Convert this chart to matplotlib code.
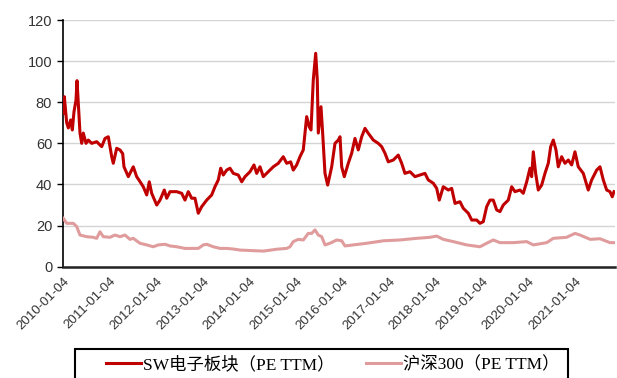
import matplotlib
matplotlib.use('Agg')
import matplotlib.pyplot as plt
import matplotlib.dates as mdates
from matplotlib.patches import Rectangle
import pandas as pd

# PE(TTM) 走势, x = 小数年份
sw_years = [
    2010.000, 2010.022, 2010.073, 2010.108, 2010.159, 2010.194, 2010.230, 2010.273,
    2010.295, 2010.331, 2010.359, 2010.396, 2010.430, 2010.488, 2010.538, 2010.611,
    2010.718, 2010.826, 2010.897, 2010.968, 2011.041, 2011.075, 2011.148, 2011.219,
    2011.277, 2011.305, 2011.398, 2011.505, 2011.578, 2011.652, 2011.720, 2011.794,
    2011.849, 2011.901, 2012.009, 2012.080, 2012.172, 2012.224, 2012.295, 2012.439,
    2012.546, 2012.617, 2012.688, 2012.761, 2012.832, 2012.903, 2012.976, 2013.084,
    2013.191, 2013.262, 2013.333, 2013.385, 2013.441, 2013.514, 2013.585, 2013.656,
    2013.763, 2013.837, 2013.908, 2014.015, 2014.101, 2014.159, 2014.230, 2014.301,
    2014.409, 2014.516, 2014.624, 2014.731, 2014.804, 2014.890, 2014.946, 2015.019,
    2015.090, 2015.161, 2015.234, 2015.290, 2015.327, 2015.376, 2015.428, 2015.462,
    2015.484, 2015.542, 2015.578, 2015.628, 2015.686, 2015.772, 2015.843, 2015.914,
    2015.951, 2015.987, 2016.043, 2016.129, 2016.202, 2016.273, 2016.344, 2016.417,
    2016.488, 2016.559, 2016.667, 2016.774, 2016.847, 2016.918, 2016.989, 2017.097,
    2017.204, 2017.277, 2017.348, 2017.456, 2017.563, 2017.671, 2017.778, 2017.849,
    2017.957, 2018.030, 2018.086, 2018.172, 2018.280, 2018.353, 2018.424, 2018.531,
    2018.602, 2018.710, 2018.783, 2018.890, 2018.961, 2019.032, 2019.105, 2019.176,
    2019.247, 2019.320, 2019.391, 2019.462, 2019.570, 2019.643, 2019.714, 2019.822,
    2019.892, 2019.966, 2020.037, 2020.073, 2020.108, 2020.159, 2020.215, 2020.288,
    2020.359, 2020.430, 2020.482, 2020.538, 2020.596, 2020.645, 2020.718, 2020.789,
    2020.860, 2020.933, 2021.004, 2021.075, 2021.183, 2021.290, 2021.363, 2021.471,
    2021.542, 2021.613, 2021.686, 2021.757, 2021.806, 2021.843,
]
sw_pe = [
    74.6, 82.7, 70.0, 67.5, 71.4, 66.5, 75.4, 81.0,
    90.5, 76.0, 65.0, 60.0, 65.0, 60.0, 61.6, 60.0,
    60.8, 58.4, 62.4, 63.2, 53.5, 50.3, 57.6, 56.8,
    55.0, 48.6, 43.8, 48.6, 43.8, 41.3, 38.9, 34.9,
    41.3, 35.7, 30.0, 32.4, 37.3, 33.3, 36.5, 36.5,
    35.7, 32.4, 36.5, 33.3, 33.3, 26.0, 29.2, 32.4,
    34.9, 38.9, 42.2, 47.9, 44.6, 47.0, 47.9, 45.4,
    44.6, 41.3, 43.8, 46.2, 49.5, 45.4, 48.6, 43.8,
    46.2, 48.6, 50.3, 53.5, 50.3, 51.0, 47.0, 49.5,
    53.5, 56.8, 73.0, 68.0, 66.5, 90.8, 103.8, 90.8,
    65.0, 77.8, 64.9, 45.4, 39.7, 48.6, 60.0, 61.6,
    63.2, 48.6, 43.8, 50.3, 55.2, 62.4, 56.8, 63.2,
    67.3, 64.9, 61.6, 60.0, 58.4, 55.2, 51.0, 51.9,
    54.3, 50.3, 45.4, 46.2, 43.8, 44.6, 45.4, 42.2,
    40.6, 38.1, 32.4, 38.9, 37.3, 38.1, 30.8, 31.6,
    28.4, 26.0, 22.7, 22.7, 21.1, 21.9, 29.2, 32.4,
    32.4, 27.6, 26.8, 30.0, 32.4, 38.9, 36.5, 37.3,
    35.7, 41.3, 47.9, 43.8, 55.9, 45.4, 37.3, 39.7,
    45.4, 50.3, 58.4, 61.6, 56.8, 48.6, 53.5, 50.3,
    51.9, 49.5, 55.9, 48.6, 45.4, 37.3, 42.2, 47.0,
    48.6, 42.2, 37.3, 36.5, 34.0, 36.5,
]

hs300_years = [
    2010.000, 2010.073, 2010.215, 2010.288, 2010.359, 2010.503, 2010.645, 2010.718,
    2010.789, 2010.860, 2011.004, 2011.112, 2011.219, 2011.327, 2011.434, 2011.505,
    2011.649, 2011.794, 2011.935, 2012.043, 2012.187, 2012.295, 2012.439, 2012.617,
    2012.796, 2012.903, 2013.011, 2013.084, 2013.226, 2013.370, 2013.514, 2013.656,
    2013.800, 2014.086, 2014.301, 2014.374, 2014.589, 2014.804, 2014.875, 2014.946,
    2015.054, 2015.161, 2015.269, 2015.342, 2015.413, 2015.484, 2015.557, 2015.628,
    2015.735, 2015.880, 2015.987, 2016.058, 2016.237, 2016.525, 2016.882, 2017.241,
    2017.600, 2017.886, 2018.030, 2018.172, 2018.387, 2018.675, 2018.961, 2019.105,
    2019.247, 2019.391, 2019.677, 2019.966, 2020.108, 2020.396, 2020.538, 2020.824,
    2021.004, 2021.112, 2021.333, 2021.542, 2021.757, 2021.843,
]
hs300_pe = [
    23.5, 21.1, 21.1, 19.5, 15.4, 14.6, 14.3, 13.8,
    17.0, 14.6, 14.3, 15.4, 14.6, 15.4, 13.3, 13.8,
    11.4, 10.6, 9.7, 10.6, 10.9, 10.1, 9.7, 8.9,
    8.9, 8.9, 10.6, 10.9, 9.7, 8.9, 8.9, 8.6,
    8.1, 7.8, 7.6, 7.8, 8.5, 8.9, 9.7, 12.2,
    13.3, 13.0, 16.2, 16.2, 17.9, 15.4, 14.6, 10.6,
    11.4, 13.0, 12.6, 10.1, 10.6, 11.4, 12.6, 13.0,
    13.8, 14.3, 14.9, 13.3, 12.2, 10.6, 9.7, 11.4,
    13.0, 11.7, 11.7, 12.2, 10.6, 11.7, 13.8, 14.3,
    16.2, 15.4, 13.3, 13.6, 11.7, 11.7,
]

tick_dates = [f'{y}-01-04' for y in range(2010, 2022)]
y_ticks = [0, 20, 40, 60, 80, 100, 120]

labels = ['SW电子板块（PE TTM）', '沪深300（PE TTM）']
colors = ['#C00000', '#E09C9C']

start = pd.Timestamp('2010-01-04')
W, H = 617, 378


def to_dates(years):
    off = [(y - 2010.0) * 365.25 for y in years]
    return start + pd.to_timedelta(off, unit='D')


fig = plt.figure(figsize=(W / 100, H / 100), dpi=100)
ax = fig.add_axes([63.3 / W, 1 - 266.7 / H, (615 - 63.3) / W, (266.7 - 20) / H])

ax.plot(to_dates(hs300_years), hs300_pe, color=colors[1], lw=2.2, label=labels[1],
        solid_joinstyle='round', zorder=3)
ax.plot(to_dates(sw_years), sw_pe, color=colors[0], lw=2.2, label=labels[0],
        solid_joinstyle='round', zorder=4)

ax.set_ylim(0, 120)
ax.set_yticks(y_ticks)
ax.set_xlim(start, start + pd.Timedelta(days=11.865 * 365.25))
ax.set_xticks(pd.to_datetime(tick_dates))
ax.xaxis.set_major_formatter(mdates.DateFormatter('%Y-%m-%d'))

ax.grid(axis='y', color='#D4D4D4', lw=1.0)
ax.set_axisbelow(True)
for s in ('top', 'right'):
    ax.spines[s].set_visible(False)
ax.spines['left'].set_linewidth(1.2)
ax.spines['bottom'].set_linewidth(1.8)
ax.spines['bottom'].set_color('#222222')

ax.tick_params(axis='y', length=4, width=1.0, direction='out', pad=4,
               labelsize=10.5, labelcolor='#333333')
ax.tick_params(axis='x', length=0, pad=6, labelsize=9.5, labelcolor='#333333')
for lab in ax.get_yticklabels():
    lab.set_family('Liberation Sans')
for lab in ax.get_xticklabels():
    lab.set_family('Liberation Sans')
    lab.set_rotation(45)
    lab.set_ha('right')
    lab.set_va('top')
    lab.set_rotation_mode('anchor')

# 图例框: 底边落在画布外
fig.patches.append(Rectangle((75 / W, -0.05), (568 - 75) / W, 0.05 + (H - 349) / H,
                             transform=fig.transFigure, fill=False,
                             edgecolor='black', lw=1.5, zorder=5))

h, l = ax.get_legend_handles_labels()
order = [1, 0]
leg = fig.legend([h[i] for i in order], [l[i] for i in order], ncol=2,
                 loc='center left', bbox_to_anchor=(106 / W, 1 - 365 / H),
                 frameon=False, handlelength=2.0, handletextpad=0.15,
                 borderpad=0, borderaxespad=0, columnspacing=1.8,
                 prop={'family': ['Liberation Serif', 'Noto Sans CJK SC'], 'size': 12.5})

fig.savefig('out.png', dpi=100)
